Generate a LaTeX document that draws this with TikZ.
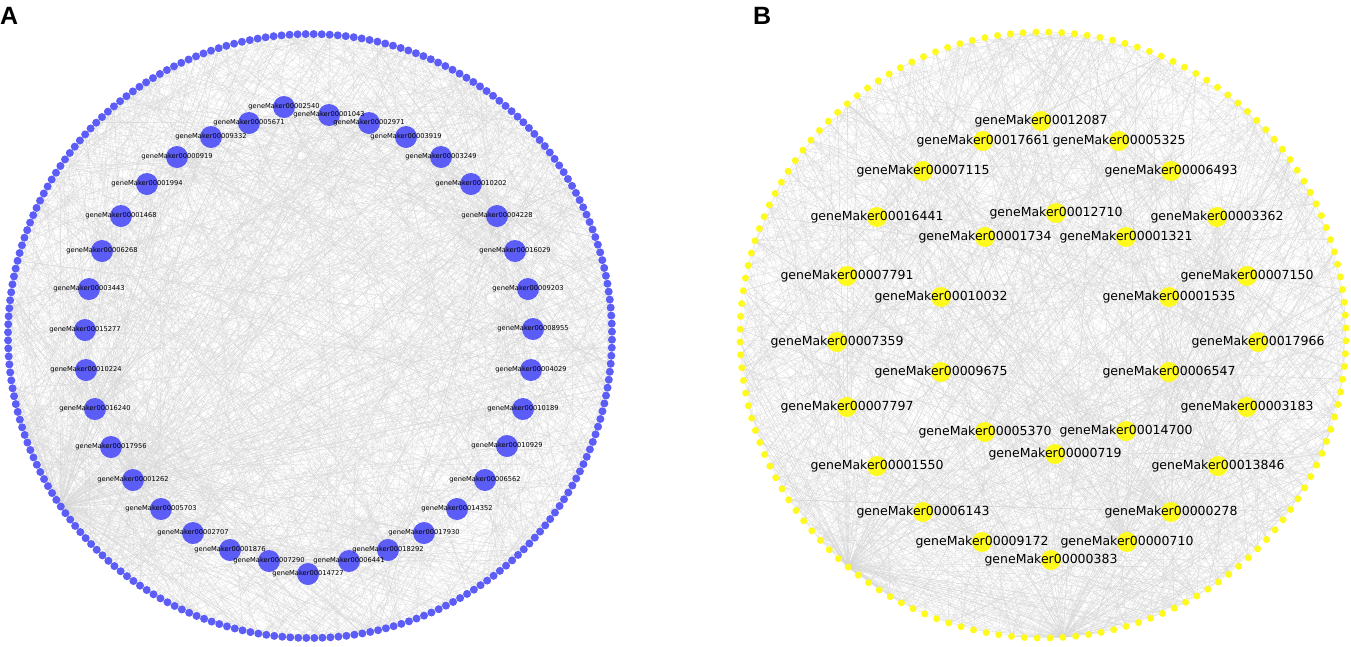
\documentclass[tikz,border=0pt]{standalone}
\usepackage{fontspec}
\setmainfont{DejaVu Sans}
\newfontfamily\panelfont{Liberation Sans}
\definecolor{nodeblue}{RGB}{92,92,246}
\definecolor{nodeyellow}{RGB}{255,250,30}
\definecolor{edgegray}{RGB}{212,212,212}
\tikzset{
 edge/.style={draw=edgegray, line width=0.1pt},
 outerA/.style={circle, fill=nodeblue, inner sep=0pt, minimum size=8pt},
 innerA/.style={circle, fill=nodeblue, inner sep=0pt, minimum size=22pt},
 labelA/.style={font=\fontsize{6.7}{7}\selectfont, text=black, inner sep=0pt},
 outerB/.style={circle, fill=nodeyellow, inner sep=0pt, minimum size=7pt},
 innerB/.style={circle, fill=nodeyellow, inner sep=0pt, minimum size=20pt},
 labelB/.style={font=\fontsize{12.5}{14}\selectfont, text=black, inner sep=0pt},
 panel/.style={font=\panelfont\bfseries\fontsize{25}{25}\selectfont, inner sep=0pt, anchor=north west},
}
\def\listA{284/107/00002540,329/115/00001043,369/123/00002971,406/137/00003919,441/157/00003249,471/184/00010202,497/216/00004228,515/251/00016029,528/289/00009203,533/329/00008955,531/370/00004029,523/409/00010189,507/446/00010929,485/480/00006562,457/509/00014352,424/533/00017930,388/550/00018292,349/561/00006441,308/574/00014727,269/561/00007290,230/550/00001876,193/533/00002707,161/509/00005703,133/480/00001262,111/447/00017956,95/409/00016240,86/370/00010224,85/330/00015277,89/289/00003443,102/251/00006268,121/216/00001468,147/184/00001994,177/157/00000919,211/137/00009332,249/123/00005671}
\def\listB{1041/121/00012087,983/141/00017661,1119/141/00005325,923/171/00007115,1171/171/00006493,877/217/00016441,1056/213/00012710,1217/217/00003362,985/237/00001734,1126/237/00001321,847/276/00007791,1247/276/00007150,941/297/00010032,1169/297/00001535,837/342/00007359,1258/342/00017966,941/372/00009675,1169/372/00006547,847/407/00007797,1247/407/00003183,985/432/00005370,1126/431/00014700,1055/454/00000719,877/466/00001550,1218/466/00013846,923/512/00006143,1171/512/00000278,982/542/00009172,1127/542/00000710,1051/560/00000383}
\begin{document}
\begin{tikzpicture}[x=1pt,y=-1pt]
\useasboundingbox (0,0) rectangle (1351,646);
% positions
\foreach \i in {0,...,235} \path (310,336) ++(\i*1.5254237+0.7:302) coordinate (oA\i);
\foreach \i in {0,...,147} \path (1043,335) ++(\i*2.4324324+1.1:303) coordinate (oB\i);
\foreach \x/\y/\t [count=\n] in \listA \coordinate (pA\n) at (\x,\y);
\foreach \x/\y/\t [count=\n] in \listB \coordinate (pB\n) at (\x,\y);
% edges panel A
\pgfmathsetseed{4711}
\foreach \k in {1,...,900}{\pgfmathrandominteger{\a}{0}{235}\pgfmathrandominteger{\b}{1}{35}\draw[edge] (oA\a) -- (pA\b);}
\foreach \k in {1,...,600}{\pgfmathrandominteger{\a}{0}{235}\pgfmathrandominteger{\b}{0}{235}\draw[edge] (oA\a) -- (oA\b);}
\foreach \k in {1,...,140}{\pgfmathrandominteger{\a}{0}{235}\draw[edge] (oA95) -- (oA\a);}
\foreach \k in {1,...,60}{\pgfmathrandominteger{\a}{0}{235}\draw[edge] (pA24) -- (oA\a);}
\foreach \k in {1,...,50}{\pgfmathrandominteger{\a}{0}{235}\draw[edge] (pA7) -- (oA\a);}
% edges panel B
\foreach \k in {1,...,850}{\pgfmathrandominteger{\a}{0}{147}\pgfmathrandominteger{\b}{1}{30}\draw[edge] (oB\a) -- (pB\b);}
\foreach \k in {1,...,500}{\pgfmathrandominteger{\a}{0}{147}\pgfmathrandominteger{\b}{0}{147}\draw[edge] (oB\a) -- (oB\b);}
\foreach \k in {1,...,130}{\pgfmathrandominteger{\a}{0}{147}\draw[edge] (oB53) -- (oB\a);}
\foreach \k in {1,...,110}{\pgfmathrandominteger{\a}{0}{147}\draw[edge] (oB35) -- (oB\a);}
\foreach \k in {1,...,60}{\pgfmathrandominteger{\a}{0}{147}\draw[edge] (pB27) -- (oB\a);}
\foreach \k in {1,...,60}{\pgfmathrandominteger{\a}{0}{147}\draw[edge] (pB29) -- (oB\a);}
% nodes
\foreach \i in {0,...,235} \node[outerA] (dA\i) at (oA\i) {};
\foreach \i in {0,...,147} \node[outerB] (dB\i) at (oB\i) {};
\foreach \x/\y/\t [count=\n] in \listA \node[innerA] (nA\n) at (pA\n) {};
\foreach \x/\y/\t [count=\n] in \listB \node[innerB] (nB\n) at (pB\n) {};
\foreach \x/\y/\t [count=\n] in \listA \node[labelA] (lA\n) at (pA\n) {geneMaker\t};
\foreach \x/\y/\t [count=\n] in \listB \node[labelB] (lB\n) at (pB\n) {geneMaker\t};
\node[panel] (panA) at (0,7) {A};
\node[panel] (panB) at (753,7) {B};
\end{tikzpicture}
\end{document}
